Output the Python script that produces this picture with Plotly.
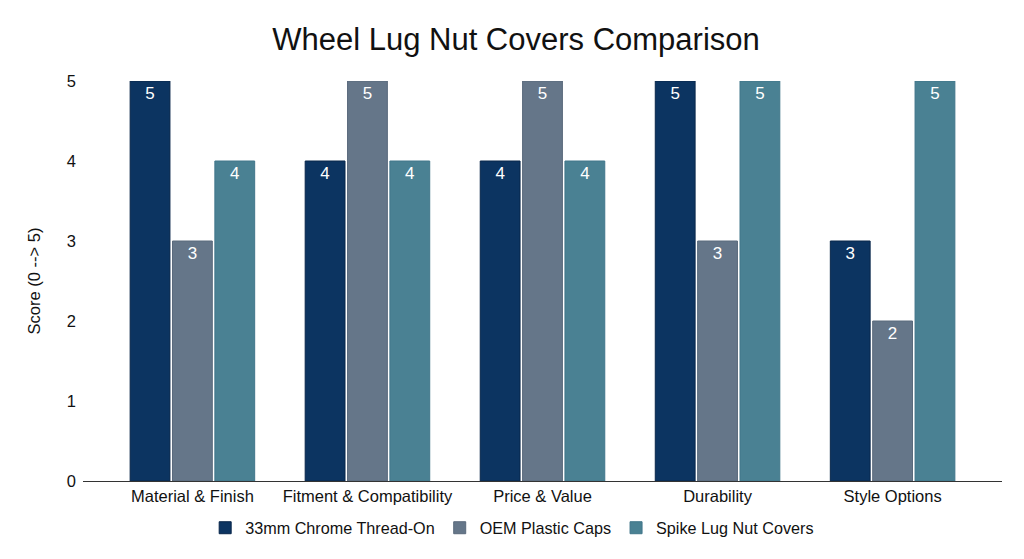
import plotly.graph_objects as go

categories = ["Material & Finish", "Fitment & Compatibility", "Price & Value", "Durability", "Style Options"]
chrome_scores = [5, 4, 4, 5, 3]
oem_scores = [3, 5, 5, 3, 2]
spike_scores = [4, 4, 4, 5, 5]
series_names = ["33mm Chrome Thread-On", "OEM Plastic Caps", "Spike Lug Nut Covers"]
colors = ["#0c3461", "#657689", "#4a8193"]
edges = ["#08264a", "#5a6a7c", "#41768a"]

FONT = "Liberation Sans, Arial"

fig = go.Figure()
for name, vals, col, edge in zip(series_names, [chrome_scores, oem_scores, spike_scores], colors, edges):
    fig.add_trace(go.Bar(
        x=categories, y=vals, name=name,
        marker=dict(color=col, line=dict(color=edge, width=1)),
        text=[str(v) for v in vals], textposition="inside",
        insidetextanchor="end",
        textfont=dict(color="white", size=17, family=FONT),
    ))

# page body adds an 8px margin, so the figure is a bit smaller than the window
fig.update_layout(
    width=1016, height=551,
    paper_bgcolor="white", plot_bgcolor="white",
    font=dict(family=FONT, color="#111111", size=16.5),
    title=dict(text="Wheel Lug Nut Covers Comparison", x=0.5, xanchor="center",
               y=0.943, yanchor="middle", font=dict(size=31, color="#111111")),
    barmode="group", bargap=0.274, bargroupgap=0.06,
    margin=dict(l=75, r=22, t=73, b=78, autoexpand=False),
    # legend sits centred on the whole figure, not the plot area
    legend=dict(orientation="h", x=0.467, xanchor="center",
                y=-0.118, yanchor="middle", font=dict(size=16.2), itemwidth=30),
    showlegend=True,
)
fig.update_xaxes(range=[-0.625, 4.625], showline=True, linecolor="#333333", linewidth=1,
                 showgrid=False, ticks="", tickfont=dict(size=16.5), automargin=False)
fig.update_yaxes(range=[0, 5], dtick=1, showgrid=False, zeroline=False, showline=False,
                 tickfont=dict(size=16.5), ticklabelstandoff=6, automargin=False,
                 title=dict(text="Score (0 --> 5)", font=dict(size=16.5), standoff=22))

fig.write_html("out.html")
